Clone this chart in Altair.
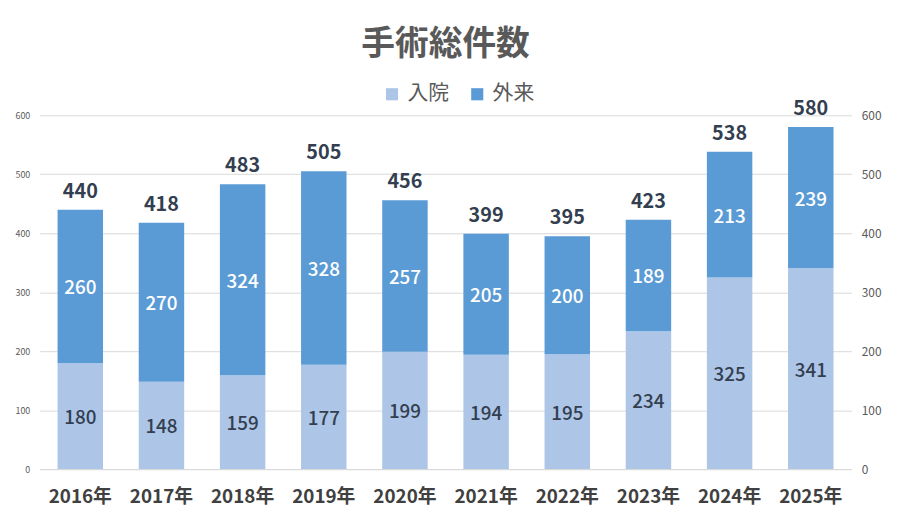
import altair as alt
import pandas as pd

years = ["2016年", "2017年", "2018年", "2019年", "2020年",
         "2021年", "2022年", "2023年", "2024年", "2025年"]
inpatient = [180, 148, 159, 177, 199, 194, 195, 234, 325, 341]
outpatient = [260, 270, 324, 328, 257, 205, 200, 189, 213, 239]
series = ["入院", "外来"]
colors = ["#ADC5E7", "#5B9BD5"]

FONT = "Noto Sans CJK JP"
ticks = [0, 100, 200, 300, 400, 500, 600]

rows = []
for i, y in enumerate(years):
    rows.append({"年": y, "区分": "入院", "件数": inpatient[i], "順": 0})
    rows.append({"年": y, "区分": "外来", "件数": outpatient[i], "順": 1})
df = pd.DataFrame(rows)

totals = pd.DataFrame({"年": years, "合計": [a + b for a, b in zip(inpatient, outpatient)]})

x_enc = alt.X("年:N", sort=years, title=None,
              scale=alt.Scale(paddingInner=0.44, paddingOuter=0.22),
              axis=alt.Axis(labelAngle=0, labelFontSize=19, labelFontWeight="bold",
                            labelColor="#404040", labelFont=FONT, labelPadding=19,
                            ticks=False, domainColor="#D9D9D9"))
y_scale = alt.Scale(domain=[0, 600])

base = alt.Chart(df).transform_stack(
    stack="件数", groupby=["年"], as_=["y0", "y1"], sort=[alt.SortField("順")]
).transform_calculate(mid="(datum.y0 + datum.y1) / 2")

bars = base.mark_bar().encode(
    x=x_enc,
    y=alt.Y("y0:Q", scale=y_scale, title=None,
            axis=alt.Axis(values=ticks, labelFontSize=9,
                          labelColor="#595959", labelFont=FONT, labelPadding=10,
                          ticks=False, domain=False, gridColor="#D9D9D9")),
    y2="y1:Q",
    color=alt.Color("区分:N", sort=series, title=None,
                    scale=alt.Scale(domain=series, range=colors),
                    legend=alt.Legend(orient="none", direction="horizontal",
                                      legendX=345, legendY=-32, symbolType="square",
                                      symbolSize=150, symbolStrokeWidth=0,
                                      labelFontSize=21, labelColor="#595959",
                                      labelFont=FONT, columnPadding=18, labelOffset=5)),
)

inner_labels = base.mark_text(fontSize=19, fontWeight=500, font=FONT, dy=2).encode(
    x=x_enc,
    y=alt.Y("mid:Q", scale=y_scale, axis=None),
    text="件数:Q",
    color=alt.Color("区分:N", scale=alt.Scale(domain=series, range=["#333F50", "#FFFFFF"]),
                    legend=None),
)

total_labels = alt.Chart(totals).mark_text(
    fontSize=20, fontWeight="bold", font=FONT, color="#333F50", baseline="bottom", dy=-8
).encode(
    x=x_enc,
    y=alt.Y("合計:Q", scale=y_scale, axis=None),
    text="合計:Q",
)

right_axis = alt.Chart(totals).mark_bar(opacity=0).encode(
    x=x_enc,
    y=alt.Y("合計:Q", scale=y_scale, title=None,
            axis=alt.Axis(orient="right", values=ticks,
                          labelFontSize=12, labelColor="#595959", labelFont=FONT,
                          labelPadding=10, ticks=False, domain=False, grid=False)),
)

chart = alt.layer(bars, inner_labels, total_labels, right_axis).resolve_scale(
    color="independent"
).resolve_axis(
    y="independent"
).properties(
    width=819,
    height=357,
    autosize=alt.AutoSizeParams(type="none"),
    padding={"left": 32, "top": 106, "right": 40, "bottom": 42},
    title=alt.TitleParams("手術総件数", fontSize=34, fontWeight="bold", color="#595959",
                          font=FONT, anchor="middle", offset=22),
).configure_view(stroke=None)

chart.save("out.html", embed_options={"renderer": "svg", "actions": False})
